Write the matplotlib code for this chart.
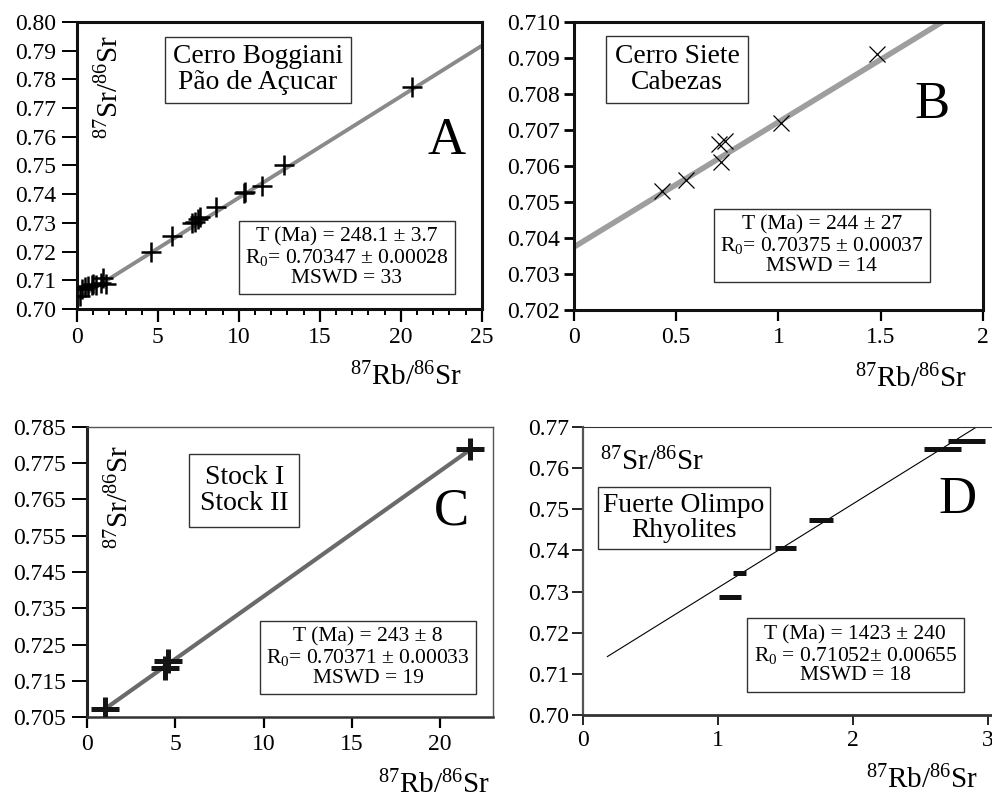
import matplotlib
matplotlib.use("Agg")
import matplotlib.pyplot as plt
import matplotlib.ticker as mticker
import numpy as np

plt.rcParams["font.family"] = "Liberation Serif"
plt.rcParams["mathtext.fontset"] = "custom"
plt.rcParams["mathtext.rm"] = "Liberation Serif"
plt.rcParams["mathtext.it"] = "Liberation Serif:italic"

LAMBDA_RB = 1.42e-11

## Panel A - Cerro Boggiani / Pao de Acucar
a_x = [0.2, 0.3, 0.5, 0.7, 0.9, 1.0, 1.2, 1.5, 1.6, 1.8, 4.6, 5.9,
       7.1, 7.3, 7.5, 7.6, 8.6, 10.3, 10.4, 11.4, 12.8, 20.7]
a_y = [0.7045, 0.7068, 0.7075, 0.7080, 0.7082, 0.7088, 0.7085, 0.7090, 0.7108, 0.7088, 0.7200, 0.7253,
       0.7298, 0.7303, 0.7312, 0.7320, 0.7355, 0.7405, 0.7407, 0.7430, 0.7500, 0.7772]
a_age, a_r0, a_line = 248.1, 0.70347, (0.0, 25.0)

## Panel B - Cerro Siete Cabezas
b_x = [0.43, 0.55, 0.71, 0.74, 0.72, 1.01, 1.48]
b_y = [0.7053, 0.7056, 0.7066, 0.7067, 0.7061, 0.7072, 0.7091]
b_age, b_r0, b_line = 244, 0.70375, (0.0, 1.85)

## Panel C - Stock I / Stock II
c_x = [1.0, 4.4, 4.6, 21.7]
c_y = [0.7073, 0.7185, 0.7205, 0.7790]
c_xerr = [0.8, 0.8, 0.8, 0.8]
c_yerr = [0.0033, 0.0033, 0.0033, 0.0030]
c_age, c_r0, c_line = 243, 0.70371, (1.0, 21.7)

## Panel D - Fuerte Olimpo Rhyolites
d_x = [1.09, 1.16, 1.50, 1.76, 2.66, 2.84]
d_y = [0.7287, 0.7346, 0.7405, 0.7475, 0.7647, 0.7666]
d_xerr = [0.08, 0.05, 0.075, 0.09, 0.135, 0.135]
d_age, d_r0, d_line = 1423, 0.71052, (0.177, 2.95)

xlab = r"$^{87}$Rb/$^{86}$Sr"
ylab = r"$^{87}$Sr/$^{86}$Sr"


def isochron(ax, age, r0, xr, **kw):
    slope = np.exp(LAMBDA_RB * age * 1e6) - 1
    xs = np.array(xr)
    ax.plot(xs, r0 + slope * xs, solid_capstyle="butt", zorder=1, **kw)


def boxed(ax, x, y, s, size, pad=0.35, lw=1.0):
    ax.text(x, y, s, transform=ax.transAxes, ha="center", va="center",
            multialignment="center", fontsize=size, linespacing=1.05,
            bbox=dict(boxstyle="square,pad=%s" % pad, fc="white", ec="#333333", lw=lw),
            zorder=5)


def spines(ax, widths, colors):
    for side, w, c in zip(["left", "bottom", "top", "right"], widths, colors):
        ax.spines[side].set_linewidth(w)
        ax.spines[side].set_color(c)
        if w == 0:
            ax.spines[side].set_visible(False)


fig = plt.figure(figsize=(9.92, 7.99), dpi=100)

# ---------------- A
ax = fig.add_axes([0.0776, 0.6133, 0.408, 0.3592])
isochron(ax, a_age, a_r0, a_line, color="#8a8a8a", lw=2.8)
ax.plot(a_x, a_y, "+", color="black", ms=15, mew=1.8, zorder=3)
ax.set_xlim(0, 25)
ax.set_ylim(0.70, 0.80)
ax.set_xticks([0, 5, 10, 15, 20, 25])
ax.xaxis.set_minor_locator(mticker.MultipleLocator(1))
ax.set_yticks(np.arange(0.70, 0.801, 0.01))
ax.yaxis.set_major_formatter(mticker.FormatStrFormatter("%.2f"))
ax.tick_params(axis="y", length=11, width=1.4, pad=4, labelsize=17)
ax.tick_params(axis="x", which="major", length=9, width=1.6, pad=4, labelsize=17)
ax.tick_params(axis="x", which="minor", length=4, width=1.4)
spines(ax, [2.2, 2.2, 2.2, 2.2], ["#111"] * 4)
boxed(ax, 0.447, 0.833, "Cerro Boggiani\nPão de Açucar", 19.8, pad=0.28)
boxed(ax, 0.667, 0.179, "T (Ma) = 248.1 ± 3.7\nR$_0$= 0.70347 ± 0.00028\nMSWD = 33", 15.5, pad=0.3)
ax.text(0.914, 0.585, "A", transform=ax.transAxes, ha="center", va="center", fontsize=38)
ax.text(0.081, 0.774, ylab, transform=ax.transAxes, ha="center", va="center", rotation=90, fontsize=21)
ax.text(0.953, -0.265, xlab, transform=ax.transAxes, ha="right", va="baseline", fontsize=21)

# ---------------- B
ax = fig.add_axes([0.5786, 0.612, 0.4123, 0.3605])
isochron(ax, b_age, b_r0, b_line, color="#9e9e9e", lw=4.0)
ax.plot(b_x, b_y, "x", color="black", ms=11, mew=0.9, zorder=3)
ax.set_xlim(0, 2)
ax.set_ylim(0.702, 0.710)
ax.set_xticks([0, 0.5, 1, 1.5, 2])
ax.xaxis.set_major_formatter(mticker.FuncFormatter(lambda v, p: ("%g" % v)))
ax.set_yticks(np.arange(0.702, 0.7101, 0.001))
ax.yaxis.set_major_formatter(mticker.FormatStrFormatter("%.3f"))
ax.tick_params(axis="y", length=7, width=2.0, pad=3, labelsize=17)
ax.tick_params(axis="x", length=8, width=1.6, pad=4, labelsize=17)
spines(ax, [2.2, 2.2, 2.2, 2.2], ["#111"] * 4)
boxed(ax, 0.252, 0.835, "Cerro Siete\nCabezas", 19.8, pad=0.3)
boxed(ax, 0.606, 0.224, "T (Ma) = 244 ± 27\nR$_0$= 0.70375 ± 0.00037\nMSWD = 14", 15.5, pad=0.3)
ax.text(0.875, 0.712, "B", transform=ax.transAxes, ha="center", va="center", fontsize=38)
ax.text(0.961, -0.267, xlab, transform=ax.transAxes, ha="right", va="baseline", fontsize=21)

# ---------------- C
ax = fig.add_axes([0.0877, 0.1026, 0.4093, 0.363])
isochron(ax, c_age, c_r0, c_line, color="#6a6a6a", lw=3.0)
ax.errorbar(c_x, c_y, xerr=c_xerr, yerr=c_yerr, fmt="none", ecolor="#151515",
            elinewidth=3.6, capsize=0, zorder=3)
ax.set_xlim(0, 23)
ax.set_ylim(0.705, 0.785)
ax.set_xticks([0, 5, 10, 15, 20])
ax.set_yticks(np.arange(0.705, 0.7851, 0.01))
ax.yaxis.set_major_formatter(mticker.FormatStrFormatter("%.3f"))
ax.tick_params(axis="y", length=11, width=1.4, pad=4, labelsize=17)
ax.tick_params(axis="x", length=8, width=1.6, pad=4, labelsize=17)
spines(ax, [2.2, 1.8, 1.0, 1.0], ["#222", "#333", "#555", "#555"])
boxed(ax, 0.387, 0.781, "Stock I\nStock II", 20, pad=0.4)
boxed(ax, 0.692, 0.205, "T (Ma) = 243 ± 8\nR$_0$= 0.70371 ± 0.00033\nMSWD = 19", 15.5, pad=0.3)
ax.text(0.897, 0.707, "C", transform=ax.transAxes, ha="center", va="center", fontsize=38)
ax.text(0.081, 0.759, ylab, transform=ax.transAxes, ha="center", va="center", rotation=90, fontsize=21)
ax.text(0.993, -0.262, xlab, transform=ax.transAxes, ha="right", va="baseline", fontsize=21)

# ---------------- D
ax = fig.add_axes([0.5877, 0.1051, 0.4153, 0.3605])
isochron(ax, d_age, d_r0, d_line, color="black", lw=0.8)
ax.errorbar(d_x, d_y, xerr=d_xerr, fmt="none", ecolor="#111", elinewidth=3.6,
            capsize=0, zorder=3)
ax.set_xlim(0, 3.05)
ax.set_ylim(0.70, 0.77)
ax.set_xticks([0, 1, 2, 3])
ax.set_yticks(np.arange(0.70, 0.7701, 0.01))
ax.yaxis.set_major_formatter(mticker.FormatStrFormatter("%.2f"))
ax.tick_params(axis="y", length=8, width=1.2, pad=2, labelsize=17)
ax.tick_params(axis="x", length=7, width=1.2, pad=4, labelsize=17)
spines(ax, [1.6, 2.0, 0.8, 0], ["#555", "#333", "#333", "#333"])
ax.text(0.041, 0.851, ylab, transform=ax.transAxes, ha="left", va="baseline", fontsize=21)
boxed(ax, 0.245, 0.684, "Fuerte Olimpo\nRhyolites", 19.8, pad=0.2)
boxed(ax, 0.661, 0.208, "T (Ma) = 1423 ± 240\nR$_0$ = 0.71052± 0.00655\nMSWD = 18", 15.5, pad=0.3)
ax.text(0.910, 0.747, "D", transform=ax.transAxes, ha="center", va="center", fontsize=38)
ax.text(0.959, -0.255, xlab, transform=ax.transAxes, ha="right", va="baseline", fontsize=21)

fig.savefig("out.png", dpi=100)
